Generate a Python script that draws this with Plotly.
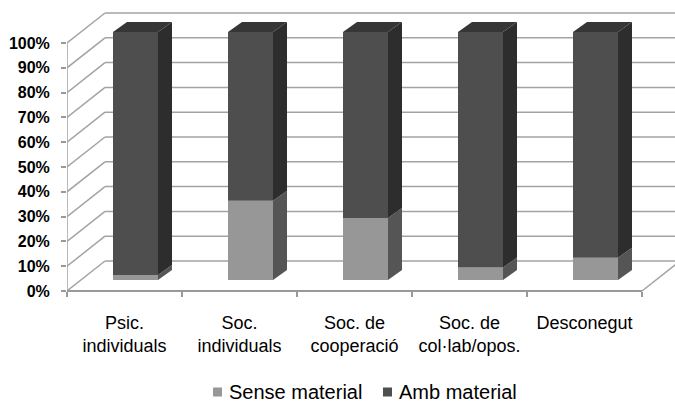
import plotly.graph_objects as go

# ---- data -------------------------------------------------------------
categories = [
    "Psic.<br>individuals",
    "Soc.<br>individuals",
    "Soc. de<br>cooperació",
    "Soc. de<br>col·lab/opos.",
    "Desconegut",
]
series_names = ["Sense material", "Amb material"]
sense_material = [2, 32, 25, 5, 9]
amb_material = [98, 68, 75, 95, 91]
y_ticks = [0, 10, 20, 30, 40, 50, 60, 70, 80, 90, 100]
y_tick_labels = [f"{v}%" for v in y_ticks]

# ---- geometry of the pseudo-3D projection -----------------------------
W, H = 675, 403
LEFT = 67            # left margin (front vertical axis)
PX_CAT = 115.0       # pixels per category
PX_PCT = 2.48        # pixels per percent
Y0_PX = 291          # pixel row of 0 % on the front plane

x_lo = -0.5
x_hi = x_lo + (W - LEFT) / PX_CAT
y_lo = (Y0_PX - H) / PX_PCT
y_hi = Y0_PX / PX_PCT

wall_dx, wall_dy = 38 / PX_CAT, 30 / PX_PCT      # floor / wall depth
front_dx, front_dy = 11 / PX_CAT, 11 / PX_PCT    # bar front plane offset
depth_dx, depth_dy = 14 / PX_CAT, 10 / PX_PCT    # bar thickness
bar_w = 45 / PX_CAT

colors = {
    "Sense material": {"front": "#979797", "side": "#555555"},
    "Amb material": {"front": "#4e4e4e", "side": "#2d2d2d", "top": "#363636"},
}
grid_col = "#a3a3a3"
font_family = "Liberation Sans, Arial, sans-serif"


def paper_x(px):
    return (px - LEFT) / (W - LEFT)


def paper_y(py):
    return (H - py) / H


fig = go.Figure()

values = {"Sense material": sense_material, "Amb material": amb_material}
n = len(categories)
xs = [i + front_dx for i in range(n)]

# front faces (bar traces, stacked via explicit base)
cum = [0.0] * n
for name in series_names:
    vals = values[name]
    fig.add_trace(go.Bar(
        x=xs, y=vals, base=[c + front_dy for c in cum], width=bar_w,
        name=name, marker=dict(color=colors[name]["front"], line=dict(width=0)),
        hoverinfo="skip", showlegend=False,
    ))
    cum = [c + v for c, v in zip(cum, vals)]

# side faces of every segment
cum = [0.0] * n
for name in series_names:
    vals = values[name]
    for i in range(n):
        b = cum[i] + front_dy
        t = b + vals[i]
        xr = xs[i] + bar_w / 2
        fig.add_trace(go.Scatter(
            x=[xr, xr + depth_dx, xr + depth_dx, xr, xr],
            y=[b, b + depth_dy, t + depth_dy, t, b],
            mode="lines", fill="toself", fillcolor=colors[name]["side"],
            line=dict(width=0), showlegend=False, hoverinfo="skip",
        ))
    cum = [c + v for c, v in zip(cum, vals)]

# top face of every column
for i in range(n):
    top = cum[i] + front_dy
    xl, xr = xs[i] - bar_w / 2, xs[i] + bar_w / 2
    fig.add_trace(go.Scatter(
        x=[xl, xl + depth_dx, xr + depth_dx, xr, xl],
        y=[top, top + depth_dy, top + depth_dy, top, top],
        mode="lines", fill="toself", fillcolor=colors["Amb material"]["top"],
        line=dict(width=0), showlegend=False, hoverinfo="skip",
    ))

# walls, floor and gridlines
shapes = []
line = dict(color=grid_col, width=1.5)
x_right = x_lo + n
for v in y_ticks:
    shapes.append(dict(type="line", xref="x", yref="y", layer="below",
                       x0=x_lo + wall_dx, y0=v + wall_dy, x1=x_hi + 1, y1=v + wall_dy, line=line))
    shapes.append(dict(type="line", xref="x", yref="y", layer="below",
                       x0=x_lo, y0=v, x1=x_lo + wall_dx, y1=v + wall_dy, line=line))
shapes.append(dict(type="line", xref="x", yref="y", layer="below",
                   x0=x_lo, y0=0, x1=x_lo, y1=y_ticks[-1], line=line))
shapes.append(dict(type="line", xref="x", yref="y", layer="below",
                   x0=x_lo, y0=0, x1=x_right, y1=0, line=dict(color="#999999", width=2)))
shapes.append(dict(type="line", xref="x", yref="y", layer="below",
                   x0=x_right, y0=0, x1=x_right + wall_dx, y1=wall_dy, line=line))

# legend: swatch + label per series
legend_left_px = [213, 383]
legend_mid_py = 392
swatch = 9
annotations = []
for name, lx in zip(series_names, legend_left_px):
    shapes.append(dict(type="rect", xref="paper", yref="paper",
                       x0=paper_x(lx), x1=paper_x(lx + swatch),
                       y0=paper_y(legend_mid_py + swatch / 2), y1=paper_y(legend_mid_py - swatch / 2),
                       fillcolor=colors[name]["front"], line=dict(width=0)))
    annotations.append(dict(xref="paper", yref="paper", x=paper_x(lx + swatch + 5),
                            y=paper_y(legend_mid_py), xanchor="left", yanchor="middle",
                            text=name, showarrow=False,
                            font=dict(size=20, family=font_family, color="#000000")))

fig.update_layout(
    width=W, height=H,
    margin=dict(l=LEFT, r=0, t=0, b=0),
    paper_bgcolor="white", plot_bgcolor="white",
    barmode="overlay",
    shapes=shapes,
    annotations=annotations,
    showlegend=False,
    font=dict(family=font_family, color="#000000"),
    xaxis=dict(
        range=[x_lo, x_hi], tickvals=list(range(n)), ticktext=categories,
        ticks="", showgrid=False, zeroline=False, showline=False,
        anchor="free", position=(H - Y0_PX) / H,
        tickfont=dict(size=18, family=font_family, color="#000000"),
        ticklabelstandoff=19,
        minor=dict(tickmode="array", tickvals=[x_lo + k for k in range(n + 1)],
                   ticks="outside", ticklen=5, tickcolor="#999999", tickwidth=1.5,
                   showgrid=False),
    ),
    yaxis=dict(
        range=[y_lo, y_hi], tickvals=y_ticks, ticktext=y_tick_labels,
        ticks="outside", ticklen=5, tickcolor="#999999", tickwidth=1.5,
        showgrid=False, zeroline=False, showline=False,
        tickfont=dict(size=16, family=font_family, color="#000000", weight="bold"),
        ticklabelstandoff=8,
    ),
)

fig.write_html("out.html")
